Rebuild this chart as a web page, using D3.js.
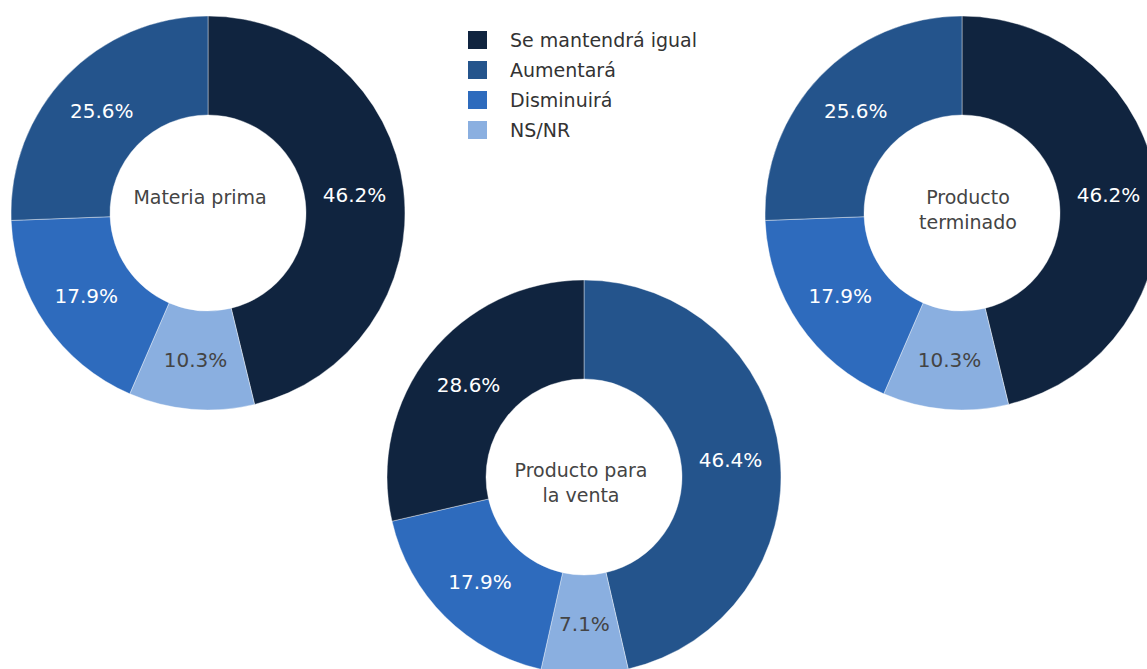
<!DOCTYPE html>
<html>
<head>
<meta charset="utf-8">
<script src="https://cdn.jsdelivr.net/npm/d3@7"></script>
<style>
  body { margin: 0; background: #fff; }
  text { font-family: "DejaVu Sans", Verdana, sans-serif; }
</style>
</head>
<body>
<div id="chart-area"></div>
<script>
// categories (legend order)
const categories = ["Se mantendrá igual", "Aumentará", "Disminuirá", "NS/NR"];
const colors = ["#10243f", "#24548c", "#2e6bbd", "#8aafe0"];

// each donut: slices listed clockwise from 12 o'clock
const materiaCats = ["Se mantendrá igual", "NS/NR", "Disminuirá", "Aumentará"];
const materiaVals = [46.2, 10.3, 17.9, 25.6];

const ventaCats = ["Aumentará", "NS/NR", "Disminuirá", "Se mantendrá igual"];
const ventaVals = [46.4, 7.1, 17.9, 28.6];

const terminadoCats = ["Se mantendrá igual", "NS/NR", "Disminuirá", "Aumentará"];
const terminadoVals = [46.2, 10.3, 17.9, 25.6];

const titles = [["Materia prima"], ["Producto para", "la venta"], ["Producto", "terminado"]];

const width = 1147, height = 669;
const outerR = 197, innerR = 98;

const svg = d3.select("#chart-area").append("svg")
    .attr("width", width)
    .attr("height", height);

const color = d3.scaleOrdinal().domain(categories).range(colors);

const donuts = [
    {cats: materiaCats, vals: materiaVals, cx: 208, cy: 213, title: titles[0], tx: -8, ty: -16},
    {cats: ventaCats, vals: ventaVals, cx: 584, cy: 477, title: titles[1], tx: -3, ty: -7},
    {cats: terminadoCats, vals: terminadoVals, cx: 962, cy: 213, title: titles[2], tx: 6, ty: -16}
];

const pie = d3.pie().value(d => d.value).sort(null);
const arc = d3.arc().innerRadius(innerR).outerRadius(outerR);
const labelArc = d3.arc().innerRadius(147.5).outerRadius(147.5);

donuts.forEach(dn => {
    const data = dn.cats.map((c, i) => ({key: c, value: dn.vals[i]}));
    const g = svg.append("g")
        .attr("transform", `translate(${dn.cx}, ${dn.cy})`);

    const arcs = pie(data);

    g.selectAll("path")
        .data(arcs)
        .enter().append("path")
        .attr("d", arc)
        .attr("fill", d => color(d.data.key))
        .attr("stroke", "#ffffff")
        .attr("stroke-width", 0.4);

    g.selectAll(".pct")
        .data(arcs)
        .enter().append("text")
        .attr("class", "pct")
        .attr("transform", d => "translate(" + labelArc.centroid(d) + ")")
        .attr("text-anchor", "middle")
        .attr("dy", "0.35em")
        .style("font-size", "20px")
        .attr("fill", d => d.data.key === "NS/NR" ? "#444444" : "#ffffff")
        .text(d => d.data.value.toFixed(1) + "%");

    g.selectAll(".title")
        .data(dn.title)
        .enter().append("text")
        .attr("class", "title")
        .attr("text-anchor", "middle")
        .attr("x", dn.tx)
        .attr("y", (d, i) => dn.ty + i * 25)
        .attr("dy", "0.35em")
        .style("font-size", "19px")
        .attr("fill", "#444444")
        .text(d => d);
});

// legend
const legend = svg.append("g").attr("transform", "translate(468, 40)");
const rows = legend.selectAll("g")
    .data(categories)
    .enter().append("g")
    .attr("transform", (d, i) => `translate(0, ${i * 30})`);

rows.append("rect")
    .attr("x", 0)
    .attr("y", -9)
    .attr("width", 19)
    .attr("height", 18)
    .attr("fill", d => color(d));

rows.append("text")
    .attr("x", 42)
    .attr("dy", "0.35em")
    .style("font-size", "19px")
    .attr("fill", "#333333")
    .text(d => d);
</script>
</body>
</html>
